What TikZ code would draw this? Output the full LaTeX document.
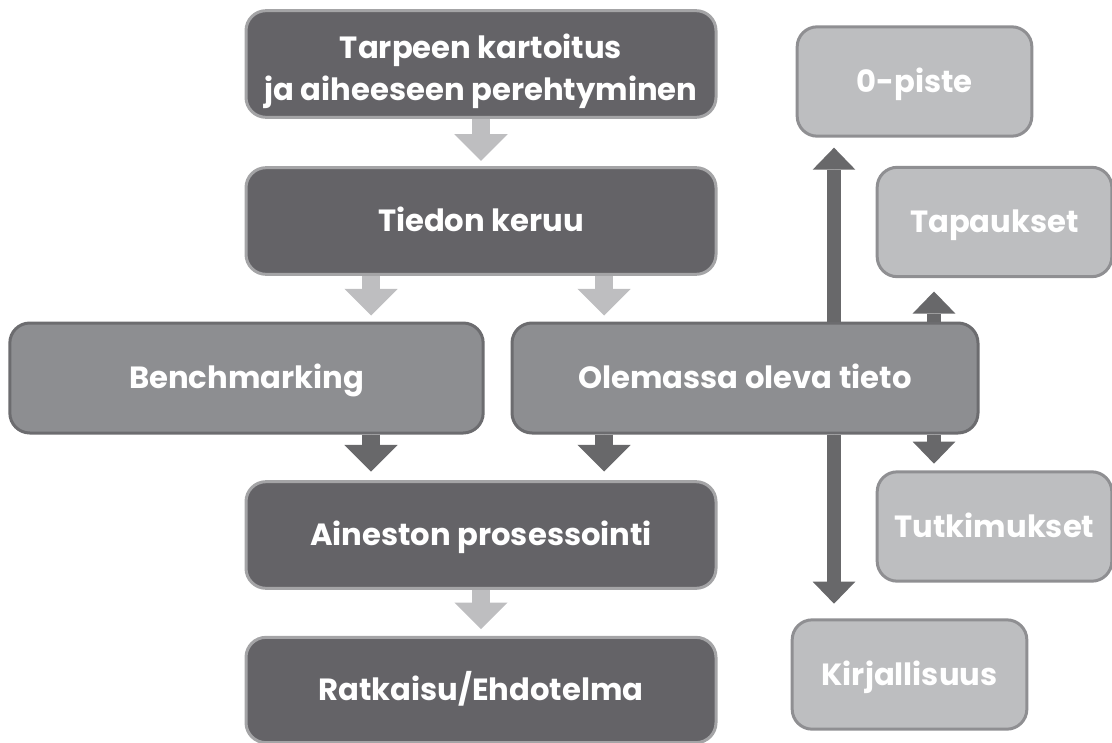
\documentclass[tikz,border=0pt]{standalone}
\usepackage{fontspec}
\setmainfont{Poppins}
\usetikzlibrary{arrows.meta}
\definecolor{darkfill}{HTML}{646367}
\definecolor{darkborder}{HTML}{A4A4A6}
\definecolor{midfill}{HTML}{8D8E91}
\definecolor{midborder}{HTML}{6C6C6F}
\definecolor{lightfill}{HTML}{BDBEC0}
\definecolor{lightborder}{HTML}{8F8F92}
\definecolor{larrowc}{HTML}{BEBEC0}
\definecolor{darrowc}{HTML}{68686A}
\tikzset{
  box/.style={rectangle, rounded corners=15pt, line width=2.25pt, text=white,
    font=\fontsize{23}{31.5}\selectfont\bfseries, align=center, inner sep=0pt},
  oneline/.style={text height=16pt, text depth=0pt},
  darkbox/.style={box, fill=darkfill, draw=darkborder, minimum width=352.5pt, minimum height=80pt},
  midbox/.style={box, oneline, fill=midfill, draw=midborder, minimum height=82.5pt},
  lightbox/.style={box, oneline, fill=lightfill, draw=lightborder, minimum width=176pt, minimum height=82pt},
  bigtip/.style={-{Triangle[width=40pt,length=20pt,line width=0pt]}},
  smalltip/.style={-{Triangle[width=32pt,length=16.5pt,line width=0pt]}},
  larrow/.style={draw=larrowc, fill=larrowc, line width=13pt, bigtip},
  darrow/.style={draw=darrowc, fill=darrowc, line width=13.5pt, bigtip},
  sarrow/.style={draw=darrowc, fill=darrowc, line width=10.5pt, smalltip},
}
\begin{document}
\begin{tikzpicture}[x=0.75pt,y=-0.75pt]
\useasboundingbox (0,0) rectangle (1112,742);
\node[darkbox] (b1) at (481,64) {\rule{0pt}{6pt}\\[-8pt]Tarpeen kartoitus\\ja aiheeseen perehtyminen};
\node[darkbox, oneline] (b2) at (481,221) {Tiedon keruu};
\node[midbox, minimum width=355pt] (bm) at (246.5,378) {Benchmarking};
\node[midbox, minimum width=349.5pt] (ol) at (745,378) {Olemassa oleva tieto};
\node[darkbox, oneline] (b5) at (481,535) {Aineston prosessointi};
\node[darkbox, oneline, minimum height=79pt] (b6) at (481,690) {Ratkaisu/Ehdotelma};
\node[lightbox] (op) at (914.5,81.5) {0-piste};
\node[lightbox] (ta) at (994.5,222) {Tapaukset};
\node[lightbox] (tu) at (994.5,526.5) {Tutkimukset};
\node[lightbox] (ki) at (909.5,674.5) {Kirjallisuus};
\coordinate (c1) at (371,0);
\coordinate (c2) at (604,0);
\coordinate (d1) at (834,0);
\coordinate (d2) at (934,0);
\draw[larrow, shorten >=4pt] (b1.south) -- (b2.north);
\draw[larrow, shorten >=4.5pt] (b2.south -| c1) -- (bm.north -| c1);
\draw[larrow, shorten >=4.5pt] (b2.south -| c2) -- (ol.north -| c2);
\draw[darrow, shorten >=6.5pt] (bm.south -| c1) -- (b5.north -| c1);
\draw[darrow, shorten >=6.5pt] (ol.south -| c2) -- (b5.north -| c2);
\draw[larrow, shorten >=5pt] (b5.south) -- (b6.north);
\draw[sarrow, shorten >=7.5pt] (ol.north -| d1) -- (op.south -| d1);
\draw[sarrow, shorten >=10pt] (ol.north -| d2) -- (ta.south -| d2);
\draw[sarrow, shorten >=5pt] (ol.south -| d2) -- (tu.north -| d2);
\draw[sarrow, shorten >=11pt] (ol.south -| d1) -- (ki.north -| d1);
\end{tikzpicture}
\end{document}
